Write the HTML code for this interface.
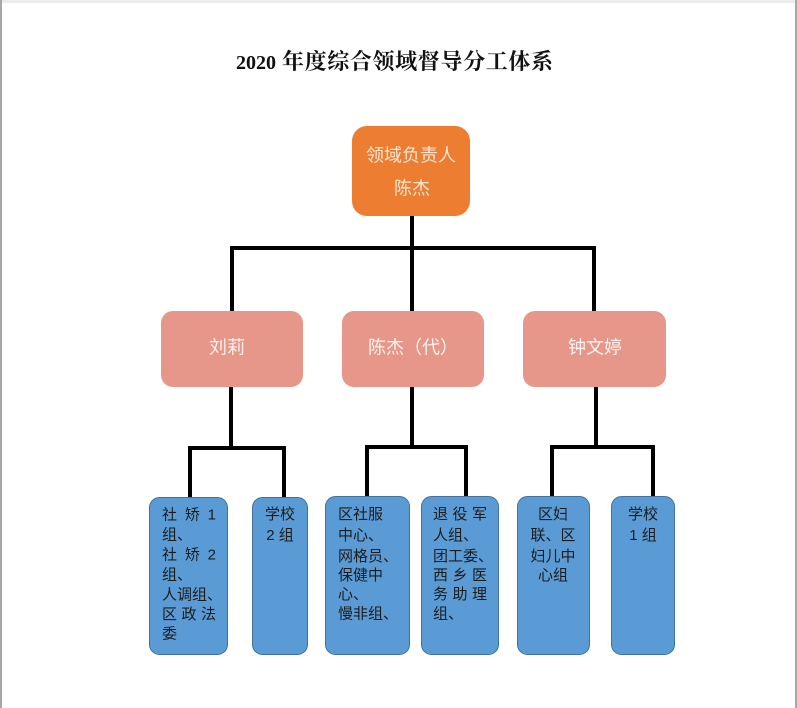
<!DOCTYPE html>
<html>
<head>
<meta charset="utf-8">
<style>
html,body{margin:0;padding:0;background:#fff;}
body{width:797px;height:708px;overflow:hidden;position:relative;}
svg{position:absolute;left:0;top:0;}
.t{font-family:"Liberation Sans","Noto Sans CJK SC",sans-serif;}
</style>
</head>
<body>
<svg width="797" height="708" viewBox="0 0 797 708" xmlns="http://www.w3.org/2000/svg">
  <rect x="0" y="0" width="797" height="708" fill="#ffffff"/>
  <!-- frame -->
  <rect x="0" y="0" width="797" height="3" fill="#ececec"/>
  <rect x="0" y="0" width="2" height="708" fill="#a8a8a8"/>
  <rect x="795" y="0" width="2" height="708" fill="#a8a8a8"/>

  <!-- title -->
  <text x="236" y="69" font-family="'Liberation Serif','Noto Serif CJK SC',serif" font-weight="bold" font-size="20" fill="#111">2020</text>
  <text x="282" y="69" font-family="'Liberation Serif','Noto Serif CJK SC',serif" font-weight="bold" font-size="22" textLength="271" lengthAdjust="spacing" fill="#111">年度综合领域督导分工体系</text>

  <!-- connectors -->
  <g stroke="#000" stroke-width="4" fill="none" stroke-linecap="square">
    <line x1="412" y1="216" x2="412" y2="248"/>
    <line x1="232" y1="248" x2="594" y2="248"/>
    <line x1="232" y1="248" x2="232" y2="311"/>
    <line x1="412" y1="248" x2="412" y2="311"/>
    <line x1="594" y1="248" x2="594" y2="311"/>

    <line x1="231" y1="387" x2="231" y2="448"/>
    <line x1="190" y1="448" x2="284" y2="448"/>
    <line x1="190" y1="448" x2="190" y2="497"/>
    <line x1="284" y1="448" x2="284" y2="497"/>

    <line x1="412" y1="387" x2="412" y2="447"/>
    <line x1="367" y1="447" x2="466" y2="447"/>
    <line x1="367" y1="447" x2="367" y2="496"/>
    <line x1="466" y1="447" x2="466" y2="496"/>

    <line x1="596" y1="387" x2="596" y2="447"/>
    <line x1="552" y1="447" x2="653" y2="447"/>
    <line x1="552" y1="447" x2="552" y2="496"/>
    <line x1="653" y1="447" x2="653" y2="496"/>
  </g>

  <!-- top box -->
  <rect x="352" y="126" width="118" height="90" rx="15" fill="#ED7D31"/>
  <text class="t" x="411" y="161.5" font-size="18" fill="#FCE6D2" text-anchor="middle">领域负责人</text>
  <text class="t" x="412" y="194.5" font-size="18" fill="#FCE6D2" text-anchor="middle">陈杰</text>

  <!-- middle boxes -->
  <rect x="161" y="311" width="142" height="76" rx="12" fill="#E6978A"/>
  <rect x="342" y="311" width="142" height="76" rx="12" fill="#E6978A"/>
  <rect x="523" y="311" width="143" height="76" rx="12" fill="#E6978A"/>
  <text class="t" x="227" y="353.5" font-size="18" fill="#FDF2EE" text-anchor="middle">刘莉</text>
  <text class="t" x="413" y="353.5" font-size="18" fill="#FDF2EE" text-anchor="middle">陈杰（代）</text>
  <text class="t" x="595" y="353.5" font-size="18" fill="#FDF2EE" text-anchor="middle">钟文婷</text>

  <!-- bottom boxes -->
  <g fill="#5B9BD5" stroke="#41719C" stroke-width="1">
    <rect x="149.5" y="497.5" width="78" height="157" rx="10"/>
    <rect x="252.5" y="497.5" width="55" height="157" rx="10"/>
    <rect x="325.5" y="496.5" width="84" height="158" rx="10"/>
    <rect x="421.5" y="496.5" width="77" height="158" rx="10"/>
    <rect x="517.5" y="496.5" width="72" height="158" rx="10"/>
    <rect x="611.5" y="496.5" width="63" height="158" rx="10"/>
  </g>

  <g class="t" font-size="15" fill="#1c1c1c">
    <!-- box A -->
    <text x="162" y="519.5" textLength="54" lengthAdjust="spacing">社矫1</text>
    <text x="162" y="539.5">组、</text>
    <text x="162" y="559.5" textLength="54" lengthAdjust="spacing">社矫2</text>
    <text x="162" y="579.5">组、</text>
    <text x="162" y="599.5">人调组、</text>
    <text x="162" y="619" textLength="54" lengthAdjust="spacing">区政法</text>
    <text x="162" y="638.5">委</text>

    <!-- box B -->
    <text x="280" y="519" text-anchor="middle">学校</text>
    <text x="280" y="540" text-anchor="middle">2 组</text>

    <!-- box C -->
    <text x="338" y="519">区社服</text>
    <text x="338" y="540">中心、</text>
    <text x="338" y="561">网格员、</text>
    <text x="338" y="580">保健中</text>
    <text x="338" y="599">心、</text>
    <text x="338" y="618.5">慢非组、</text>

    <!-- box D -->
    <text x="433" y="519" textLength="54" lengthAdjust="spacing">退役军</text>
    <text x="433" y="540">人组、</text>
    <text x="433" y="561">团工委、</text>
    <text x="433" y="580" textLength="54" lengthAdjust="spacing">西乡医</text>
    <text x="433" y="599" textLength="54" lengthAdjust="spacing">务助理</text>
    <text x="433" y="618.5">组、</text>

    <!-- box E -->
    <text x="553" y="519" text-anchor="middle">区妇</text>
    <text x="553" y="540" text-anchor="middle">联、区</text>
    <text x="553" y="561" text-anchor="middle">妇儿中</text>
    <text x="553" y="580" text-anchor="middle">心组</text>

    <!-- box F -->
    <text x="643" y="519" text-anchor="middle">学校</text>
    <text x="643" y="540" text-anchor="middle">1 组</text>
  </g>
</svg>
</body>
</html>
